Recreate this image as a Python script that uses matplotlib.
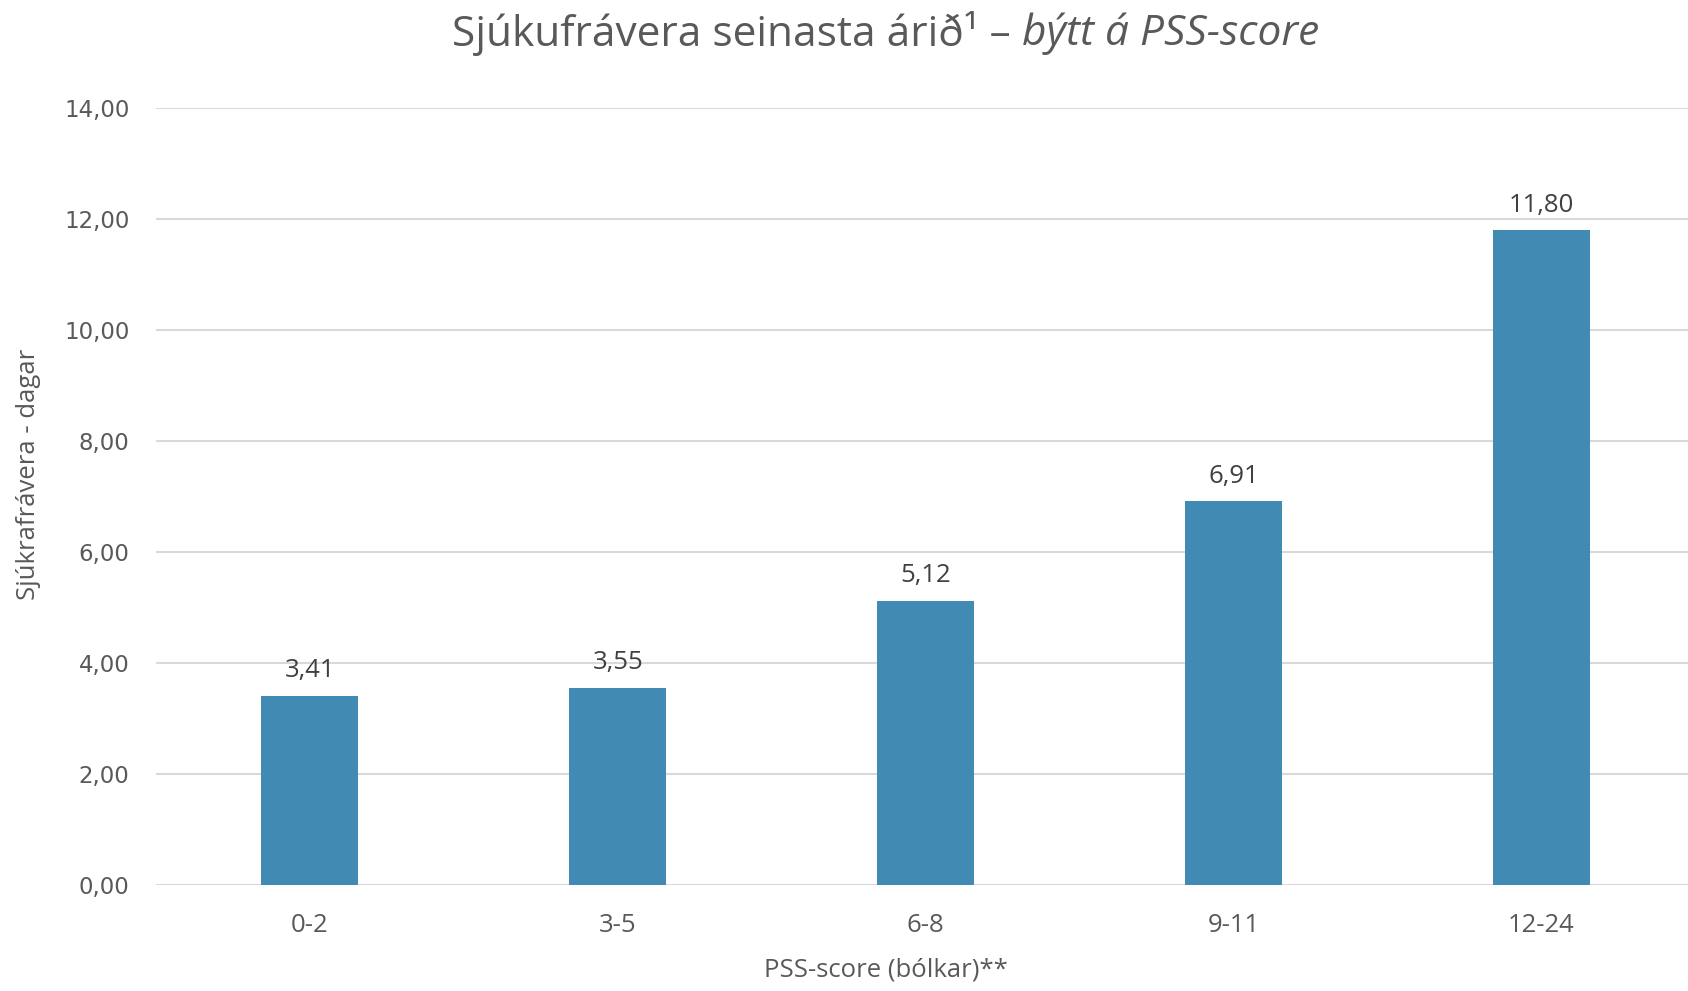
import matplotlib.pyplot as plt
from matplotlib.ticker import FuncFormatter

categories = ['0-2', '3-5', '6-8', '9-11', '12-24']
values = [3.41, 3.55, 5.12, 6.91, 11.80]
yticks = [0, 2, 4, 6, 8, 10, 12, 14]

bar_color = '#418AB3'
text_color = '#595959'
grid_color = '#D9D9D9'


def comma(v, _pos=None):
    return f'{v:.2f}'.replace('.', ',')


def main():
    plt.rcParams['font.family'] = ['Open Sans', 'DejaVu Sans']
    fig = plt.figure(figsize=(16.88, 9.91), dpi=100)
    ax = fig.add_axes([0.0924, 0.107, 0.912, 0.784])

    x = range(len(categories))
    ax.bar(x, values, width=0.315, color=bar_color, zorder=2)
    for xi, v in zip(x, values):
        ax.annotate(comma(v), (xi, v), xytext=(0, 9), textcoords='offset points',
                    ha='center', va='bottom', fontsize=18.5, color='#404040')

    ax.set_xlim(-0.5, len(categories) - 0.5)
    ax.set_ylim(0, 14)
    ax.set_yticks(yticks)
    ax.yaxis.set_major_formatter(FuncFormatter(comma))
    ax.set_xticks(list(x))
    ax.set_xticklabels(categories)
    ax.grid(axis='y', color=grid_color, linewidth=1.5, zorder=0)
    for s in ax.spines.values():
        s.set_visible(False)
    ax.tick_params(axis='both', length=0, colors=text_color)
    ax.tick_params(axis='x', labelsize=18.5, pad=20)
    ax.tick_params(axis='y', labelsize=16.5, pad=19, labelfontfamily='DejaVu Sans')

    ax.set_xlabel('PSS-score (bólkar)**', fontsize=18.5, color=text_color, labelpad=14)
    ax.xaxis.set_label_coords(0.474, -0.093)
    ax.set_ylabel('Sjúkrafrávera - dagar', fontsize=18.5, color=text_color, labelpad=12)
    ax.yaxis.set_label_coords(-0.075, 0.528)

    # title: regular part followed by italic part
    t1 = fig.text(452 / 1688, 0.966, 'Sjúkufrávera seinasta árið¹ – ', fontsize=30.5,
                  color=text_color, ha='left', va='center')
    fig.canvas.draw()
    bb = t1.get_window_extent()
    fig.text(bb.x1 / fig.bbox.width, 0.966, 'býtt á PSS-score', fontsize=30.5,
             color=text_color, ha='left', va='center', style='italic')

    fig.savefig('out.png', dpi=100)


if __name__ == '__main__':
    main()
